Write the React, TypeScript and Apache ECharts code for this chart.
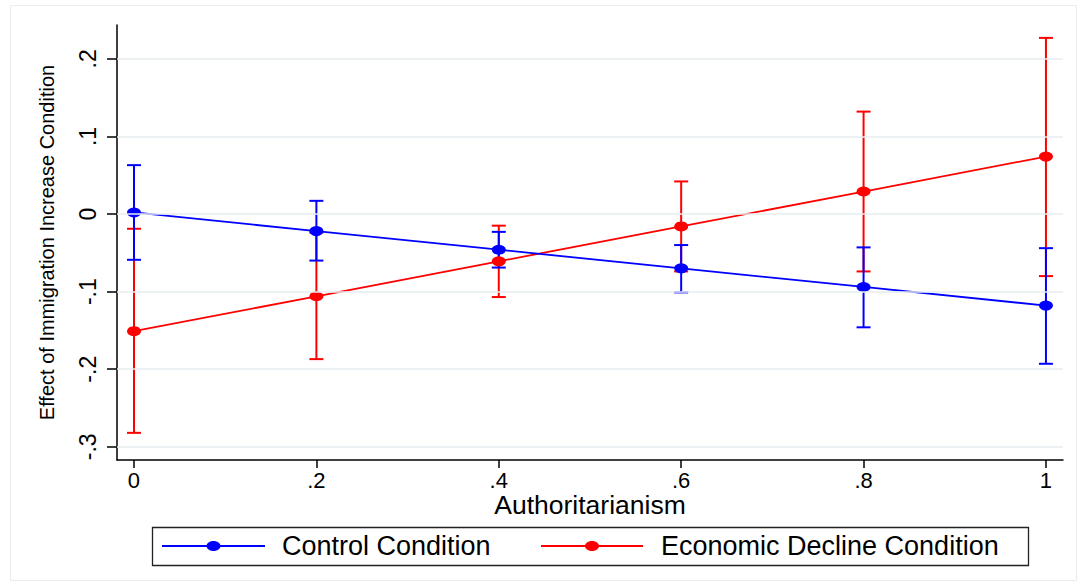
import React, { useEffect, useRef } from "react";
import * as echarts from "echarts";

// Marginal effects of the immigration-increase treatment by authoritarianism level
const authoritarianism = [0, 0.2, 0.4, 0.6, 0.8, 1];
const controlEffect = [0.002, -0.022, -0.046, -0.07, -0.094, -0.118];
const controlLower = [-0.059, -0.06, -0.069, -0.101, -0.146, -0.193];
const controlUpper = [0.063, 0.017, -0.023, -0.04, -0.043, -0.044];
const declineEffect = [-0.151, -0.106, -0.061, -0.016, 0.029, 0.074];
const declineLower = [-0.282, -0.187, -0.107, -0.074, -0.074, -0.08];
const declineUpper = [-0.019, -0.024, -0.015, 0.042, 0.132, 0.227];

const xTicks = [0, 0.2, 0.4, 0.6, 0.8, 1];
const yTicks = [-0.3, -0.2, -0.1, 0, 0.1, 0.2];
const seriesNames = ["Control Condition", "Economic Decline Condition"];
const xTitle = "Authoritarianism";
const yTitle = "Effect of Immigration Increase Condition";

const BLUE = "#0000ff";
const RED = "#ff0000";
const FONT = "Liberation Sans, Arial, Helvetica, sans-serif";

// Stata-style tick text: drop the leading zero (".2", "-.1")
const fmt = (v: number) => {
  if (Math.abs(v) < 1e-9) return "0";
  const s = String(parseFloat(v.toFixed(2)));
  return s.replace(/^(-?)0\./, "$1.");
};

const errorBarSeries = (name: string, color: string, lo: number[], hi: number[]) => ({
  name: name + " CI",
  type: "custom",
  z: 2,
  silent: true,
  encode: { x: 0, y: [1, 2] },
  data: authoritarianism.map((x, i) => [x, lo[i], hi[i]]),
  renderItem: (_params: any, api: any) => {
    const x = api.value(0);
    const top = api.coord([x, api.value(2)]);
    const bot = api.coord([x, api.value(1)]);
    const half = 7;
    const style = { stroke: color, lineWidth: 2 };
    return {
      type: "group",
      children: [
        { type: "line", shape: { x1: top[0], y1: top[1], x2: bot[0], y2: bot[1] }, style },
        { type: "line", shape: { x1: top[0] - half, y1: top[1], x2: top[0] + half, y2: top[1] }, style },
        { type: "line", shape: { x1: bot[0] - half, y1: bot[1], x2: bot[0] + half, y2: bot[1] }, style },
      ],
    };
  },
});

const lineSeries = (name: string, color: string, vals: number[], z: number) => ({
  name,
  type: "line",
  z,
  data: authoritarianism.map((x, i) => [x, vals[i]]),
  symbol: "circle",
  symbolSize: [14, 10],
  showSymbol: true,
  itemStyle: { color },
  lineStyle: { color, width: 1.8 },
});

export default function App() {
  const ref = useRef<HTMLDivElement>(null);

  useEffect(() => {
    if (!ref.current) return;
    const chart = echarts.init(ref.current, undefined, { renderer: "svg" });

    const legendY = 546;
    const legendItems = [
      { color: BLUE, x1: 162, x2: 265, text: 282, label: seriesNames[0] },
      { color: RED, x1: 541, x2: 643, text: 661, label: seriesNames[1] },
    ];

    chart.setOption({
      animation: false,
      backgroundColor: "#ffffff",
      grid: { left: 117, right: 17, top: 25, bottom: 126, containLabel: false },
      xAxis: {
        type: "value",
        min: -0.01864,
        max: 1.0187,
        name: xTitle,
        nameLocation: "middle",
        nameGap: 31,
        nameMoveOverlap: false,
        nameTextStyle: { color: "#000", fontFamily: FONT, fontSize: 26.5 },
        axisLine: { show: true, onZero: false, lineStyle: { color: "#000", width: 1.5 } },
        axisTick: { show: true, length: 8, customValues: xTicks, lineStyle: { color: "#000", width: 1.5 } },
        axisLabel: {
          customValues: xTicks,
          formatter: fmt,
          color: "#000",
          fontFamily: FONT,
          fontSize: 22,
          margin: 9,
        },
        splitLine: { show: false },
      },
      yAxis: {
        type: "value",
        min: -0.317,
        max: 0.2436,
        name: yTitle,
        nameLocation: "middle",
        nameRotate: 90,
        nameGap: 60,
        nameMoveOverlap: false,
        nameTextStyle: { color: "#000", fontFamily: FONT, fontSize: 20 },
        axisLine: { show: true, onZero: false, lineStyle: { color: "#000", width: 1.5 } },
        axisTick: { show: true, length: 10, customValues: yTicks, lineStyle: { color: "#000", width: 1.5 } },
        axisLabel: {
          customValues: yTicks,
          formatter: fmt,
          rotate: 90,
          color: "#000",
          fontFamily: FONT,
          fontSize: 23,
          margin: 18,
        },
        splitLine: { show: false },
      },
      series: [
        {
          name: "grid",
          type: "line",
          data: [],
          silent: true,
          z: 1,
          markLine: {
            silent: true,
            symbol: "none",
            label: { show: false },
            lineStyle: { color: "#e6edf1", width: 1.5, type: "solid" },
            data: yTicks.map((v) => ({ yAxis: v })),
          },
        },
        errorBarSeries(seriesNames[1], RED, declineLower, declineUpper),
        errorBarSeries(seriesNames[0], BLUE, controlLower, controlUpper),
        lineSeries(seriesNames[1], RED, declineEffect, 3),
        lineSeries(seriesNames[0], BLUE, controlEffect, 4),
      ],
      graphic: [
        {
          type: "rect",
          shape: { x: 10.5, y: 5.5, width: 1066, height: 575 },
          style: { fill: "none", stroke: "#e9edf0", lineWidth: 1 },
          silent: true,
        },
        {
          type: "rect",
          shape: { x: 152.5, y: 527.5, width: 876, height: 38 },
          style: { fill: "#fff", stroke: "#222", lineWidth: 1.3 },
          silent: true,
        },
        ...legendItems.flatMap((it) => [
          {
            type: "line",
            shape: { x1: it.x1, y1: legendY, x2: it.x2, y2: legendY },
            style: { stroke: it.color, lineWidth: 1.8 },
            silent: true,
          },
          {
            type: "ellipse",
            shape: { cx: (it.x1 + it.x2) / 2, cy: legendY, rx: 7, ry: 5 },
            style: { fill: it.color },
            silent: true,
          },
          {
            type: "text",
            x: it.text,
            y: legendY,
            style: {
              text: it.label,
              fill: "#000",
              font: `27px ${FONT}`,
              verticalAlign: "middle",
              align: "left",
            },
            silent: true,
          },
        ]),
      ],
    });

    return () => chart.dispose();
  }, []);

  return (
    <div
      ref={ref}
      style={{ position: "absolute", left: 0, top: 0, width: 1080, height: 586 }}
    />
  );
}
